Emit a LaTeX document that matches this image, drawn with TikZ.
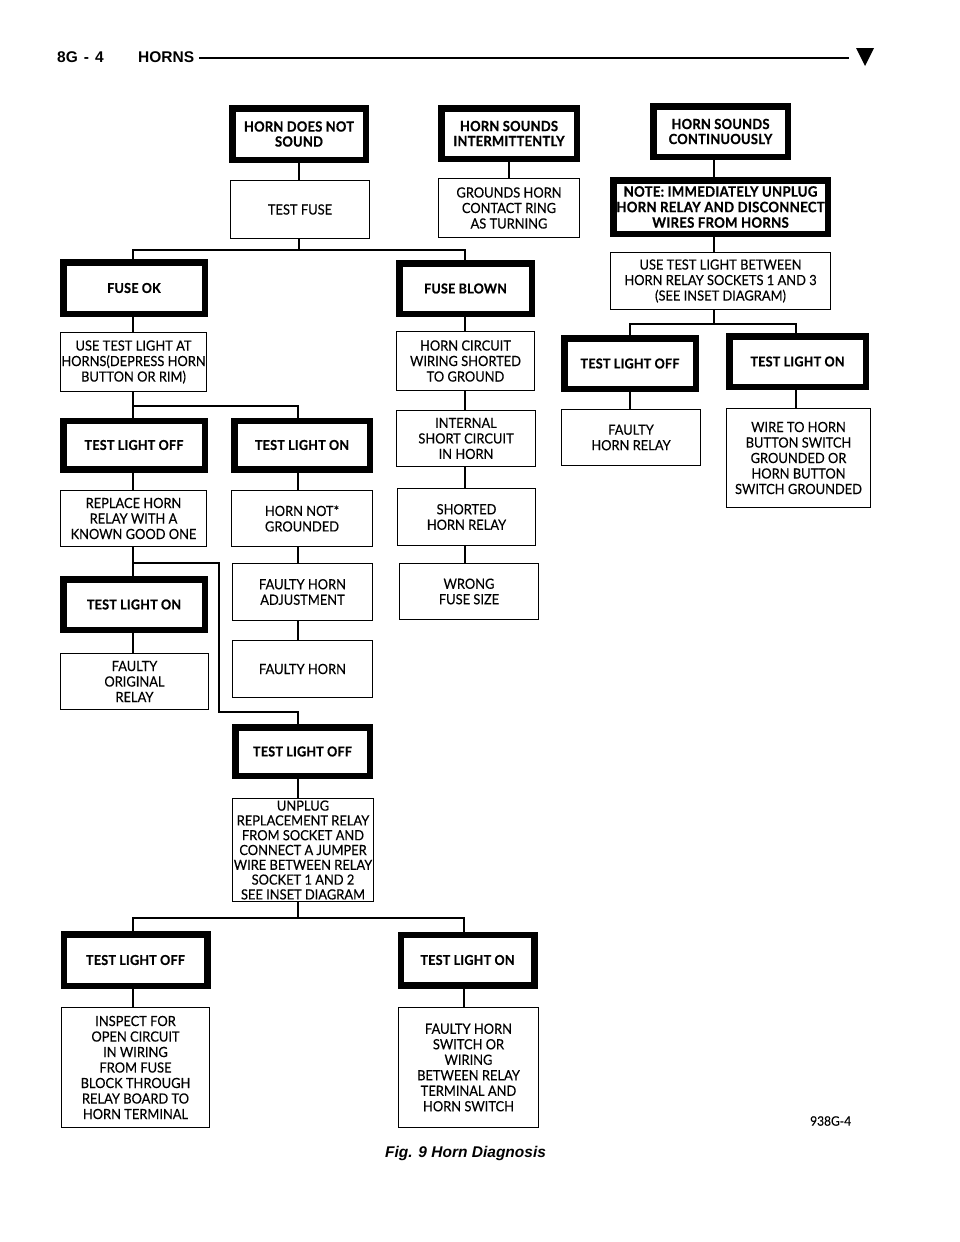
\documentclass[tikz,border=0pt]{standalone}
\usepackage{fontspec}
\setmainfont{Lato}
\newfontfamily\boxfont[FakeStretch=0.92, UprightFeatures={FakeBold=0.25}, BoldFeatures={FakeBold=0.8, LetterSpace=2}]{Lato}
\newfontfamily\headfont{Liberation Sans}
\newfontfamily\capfont{Liberation Sans}
\tikzset{
  thin/.style={draw, line width=1.4pt, inner sep=0pt, align=center,
    font=\boxfont\fontsize{14}{15.5}\selectfont},
  thick/.style={draw, line width=6.5pt, inner sep=0pt, align=center,
    font=\boxfont\bfseries\fontsize{13.6}{15}\selectfont},
  title/.style={font=\boxfont\bfseries\fontsize{14}{15}\selectfont},
  wire/.style={line width=1.4pt},
  sz/.style 2 args={minimum width=#1pt, minimum height=#2pt},
}
\begin{document}
\begin{tikzpicture}[x=1pt,y=-1pt]
\useasboundingbox (0,0) rectangle (960,1242);
\fill[white] (0,0) rectangle (960,1242);
% header
\node[anchor=base west, inner sep=0pt, font=\headfont\bfseries\fontsize{15.5}{15.5}\selectfont] (pg) at (57,62) {8G\hspace{6pt}-\hspace{6pt}4};
\node[anchor=base west, inner sep=0pt, font=\headfont\bfseries\fontsize{15.5}{15.5}\selectfont] (hn) at (138,62) {HORNS};
\coordinate (hr) at (849,58);
\draw[line width=2.2pt] (hn.east |- hr) ++(5,0) -- (hr);
\fill (856,48) -- (874,48) -- (865,66) -- cycle;

% thick boxes
\node[thick, title, sz={133.5}{51.5}] (hd) at (299,134) {HORN DOES NOT\\SOUND};
\node[thick, title, sz={135.5}{50.5}] (hi) at (509,133.5) {HORN SOUNDS\\INTERMITTENTLY};
\node[thick, title, sz={134.5}{50.5}] (hc) at (720.5,131.5) {HORN SOUNDS\\CONTINUOUSLY};
\node[thick, sz={214.5}{53.5}, font=\boxfont\bfseries\fontsize{14.3}{15.5}\selectfont] (note) at (720.5,207) {NOTE: IMMEDIATELY UNPLUG\\HORN RELAY AND DISCONNECT\\WIRES FROM HORNS};
\node[thick, sz={141.5}{51.5}] (fok) at (134,288) {FUSE OK};
\node[thick, sz={132.5}{50.5}] (fbl) at (465.5,288.5) {FUSE BLOWN};
\node[thick, sz={131.5}{50.5}] (toffR) at (630,363.5) {TEST LIGHT OFF};
\node[thick, sz={136.5}{50.5}] (tonR) at (797.5,361.5) {TEST LIGHT ON};
\node[thick, sz={141.5}{48.5}] (toffL) at (134,445) {TEST LIGHT OFF};
\node[thick, sz={135.5}{48.5}] (tonM) at (302,445) {TEST LIGHT ON};
\node[thick, sz={141.5}{50.5}] (tonL) at (134,604.5) {TEST LIGHT ON};
\node[thick, sz={134.5}{48.5}] (toffM) at (302.5,751.5) {TEST LIGHT OFF};
\node[thick, sz={143.5}{51.5}] (toffB) at (135.5,960) {TEST LIGHT OFF};
\node[thick, sz={133.5}{50.5}] (tonB) at (467.5,960) {TEST LIGHT ON};

% thin boxes
\node[thin, sz={138.6}{57.6}] (tf) at (300,209.5) {TEST FUSE};
\node[thin, sz={140.6}{58.6}] (gh) at (509,208) {GROUNDS HORN\\CONTACT RING\\AS TURNING};
\node[thin, sz={219.6}{56.6}] (utl) at (720.5,281) {USE TEST LIGHT BETWEEN\\HORN RELAY SOCKETS 1 AND 3\\(SEE INSET DIAGRAM)};
\node[thin, sz={145.6}{58.6}] (uth) at (133.5,362) {USE TEST LIGHT AT\\HORNS(DEPRESS HORN\\BUTTON OR RIM)};
\node[thin, sz={137.6}{58.6}] (hcw) at (465.5,361) {HORN CIRCUIT\\WIRING SHORTED\\TO GROUND};
\node[thin, sz={138.6}{55.6}] (ish) at (466,438.5) {INTERNAL\\SHORT CIRCUIT\\IN HORN};
\node[thin, sz={138.6}{55.6}] (fhr) at (631,437.5) {FAULTY\\HORN RELAY};
\node[thin, sz={143.6}{98.6}] (wth) at (798.5,458) {WIRE TO HORN\\BUTTON SWITCH\\GROUNDED OR\\HORN BUTTON\\SWITCH GROUNDED};
\node[thin, sz={145.6}{55.6}] (rep) at (133.5,518.5) {REPLACE HORN\\RELAY WITH A\\KNOWN GOOD ONE};
\node[thin, sz={140.6}{55.6}] (hng) at (302,518.5) {HORN NOT*\\GROUNDED};
\node[thin, sz={137.6}{56.6}] (shr) at (466.5,517) {SHORTED\\HORN RELAY};
\node[thin, sz={139.6}{56.6}] (fha) at (302.5,592) {FAULTY HORN\\ADJUSTMENT};
\node[thin, sz={138.6}{55.6}] (wfs) at (469,591.5) {WRONG\\FUSE SIZE};
\node[thin, sz={139.6}{56.6}] (fh) at (302.5,669) {FAULTY HORN};
\node[thin, sz={147.6}{55.6}] (forl) at (134.5,681.5) {FAULTY\\ORIGINAL\\RELAY};
\node[thin, sz={140.6}{102.6}, font=\boxfont\fontsize{14}{14.8}\selectfont] (unp) at (303,850) {UNPLUG\\REPLACEMENT RELAY\\FROM SOCKET AND\\CONNECT A JUMPER\\WIRE BETWEEN RELAY\\SOCKET 1 AND 2\\SEE INSET DIAGRAM};
\node[thin, sz={147.6}{119.6}] (insp) at (135.5,1067.5) {INSPECT FOR\\OPEN CIRCUIT\\IN WIRING\\FROM FUSE\\BLOCK THROUGH\\RELAY BOARD TO\\HORN TERMINAL};
\node[thin, sz={139.6}{119.6}] (fhs) at (468.5,1067.5) {FAULTY HORN\\SWITCH OR\\WIRING\\BETWEEN RELAY\\TERMINAL AND\\HORN SWITCH};

% connector reference coordinates
\coordinate (xL) at (133,0);
\coordinate (xM) at (298,0);
\coordinate (xB) at (465,0);
\coordinate (xBR) at (464,0);
\coordinate (xR1) at (630,0);
\coordinate (xR) at (714,0);
\coordinate (xR2) at (796,0);
\coordinate (xHD) at (299,0);
\coordinate (xHI) at (509,0);
\coordinate (jA) at (299,250);
\coordinate (jB) at (714,324);
\coordinate (jC) at (133,406);
\coordinate (jD) at (133,563);
\coordinate (bend) at (219,712);
\coordinate (jE) at (298,918);

\begin{scope}[wire]
\draw (hd.south -| xHD) -- (tf.north -| xHD);
\draw (hi.south -| xHI) -- (gh.north -| xHI);
\draw (hc.south -| xR) -- (note.north -| xR);
\draw (note.south -| xR) -- (utl.north -| xR);
\draw (tf.south -| jA) -- (jA);
\draw (fok.north -| xL) |- (jA) -| (fbl.north -| xB);
\draw (utl.south -| jB) -- (jB);
\draw (toffR.north -| xR1) |- (jB) -| (tonR.north -| xR2);
\draw (toffR.south -| xR1) -- (fhr.north -| xR1);
\draw (tonR.south -| xR2) -- (wth.north -| xR2);
\draw (fok.south -| xL) -- (uth.north -| xL);
\draw (uth.south -| xL) -- (toffL.north -| xL);
\draw (jC) -| (tonM.north -| xM);
\draw (toffL.south -| xL) -- (rep.north -| xL);
\draw (rep.south -| xL) -- (tonL.north -| xL);
\draw (jD) -| (bend) -| (toffM.north -| xM);
\draw (tonL.south -| xL) -- (forl.north -| xL);
\draw (tonM.south -| xM) -- (hng.north -| xM);
\draw (hng.south -| xM) -- (fha.north -| xM);
\draw (fha.south -| xM) -- (fh.north -| xM);
\draw (toffM.south -| xM) -- (unp.north -| xM);
\draw (unp.south -| jE) -- (jE);
\draw (toffB.north -| xL) |- (jE) -| (tonB.north -| xBR);
\draw (toffB.south -| xL) -- (insp.north -| xL);
\draw (tonB.south -| xBR) -- (fhs.north -| xBR);
\draw (fbl.south -| xB) -- (hcw.north -| xB);
\draw (hcw.south -| xB) -- (ish.north -| xB);
\draw (ish.south -| xB) -- (shr.north -| xB);
\draw (shr.south -| xB) -- (wfs.north -| xB);
\end{scope}

% labels
\node[anchor=west, inner sep=0pt, font=\boxfont\fontsize{13}{13}\selectfont] (code) at (810,1121) {938G-4};
\node[anchor=west, inner sep=0pt, font=\capfont\bfseries\itshape\fontsize{15.5}{15.5}\selectfont] (cap) at (385,1153) {Fig. 9 Horn Diagnosis};
\end{tikzpicture}
\end{document}
